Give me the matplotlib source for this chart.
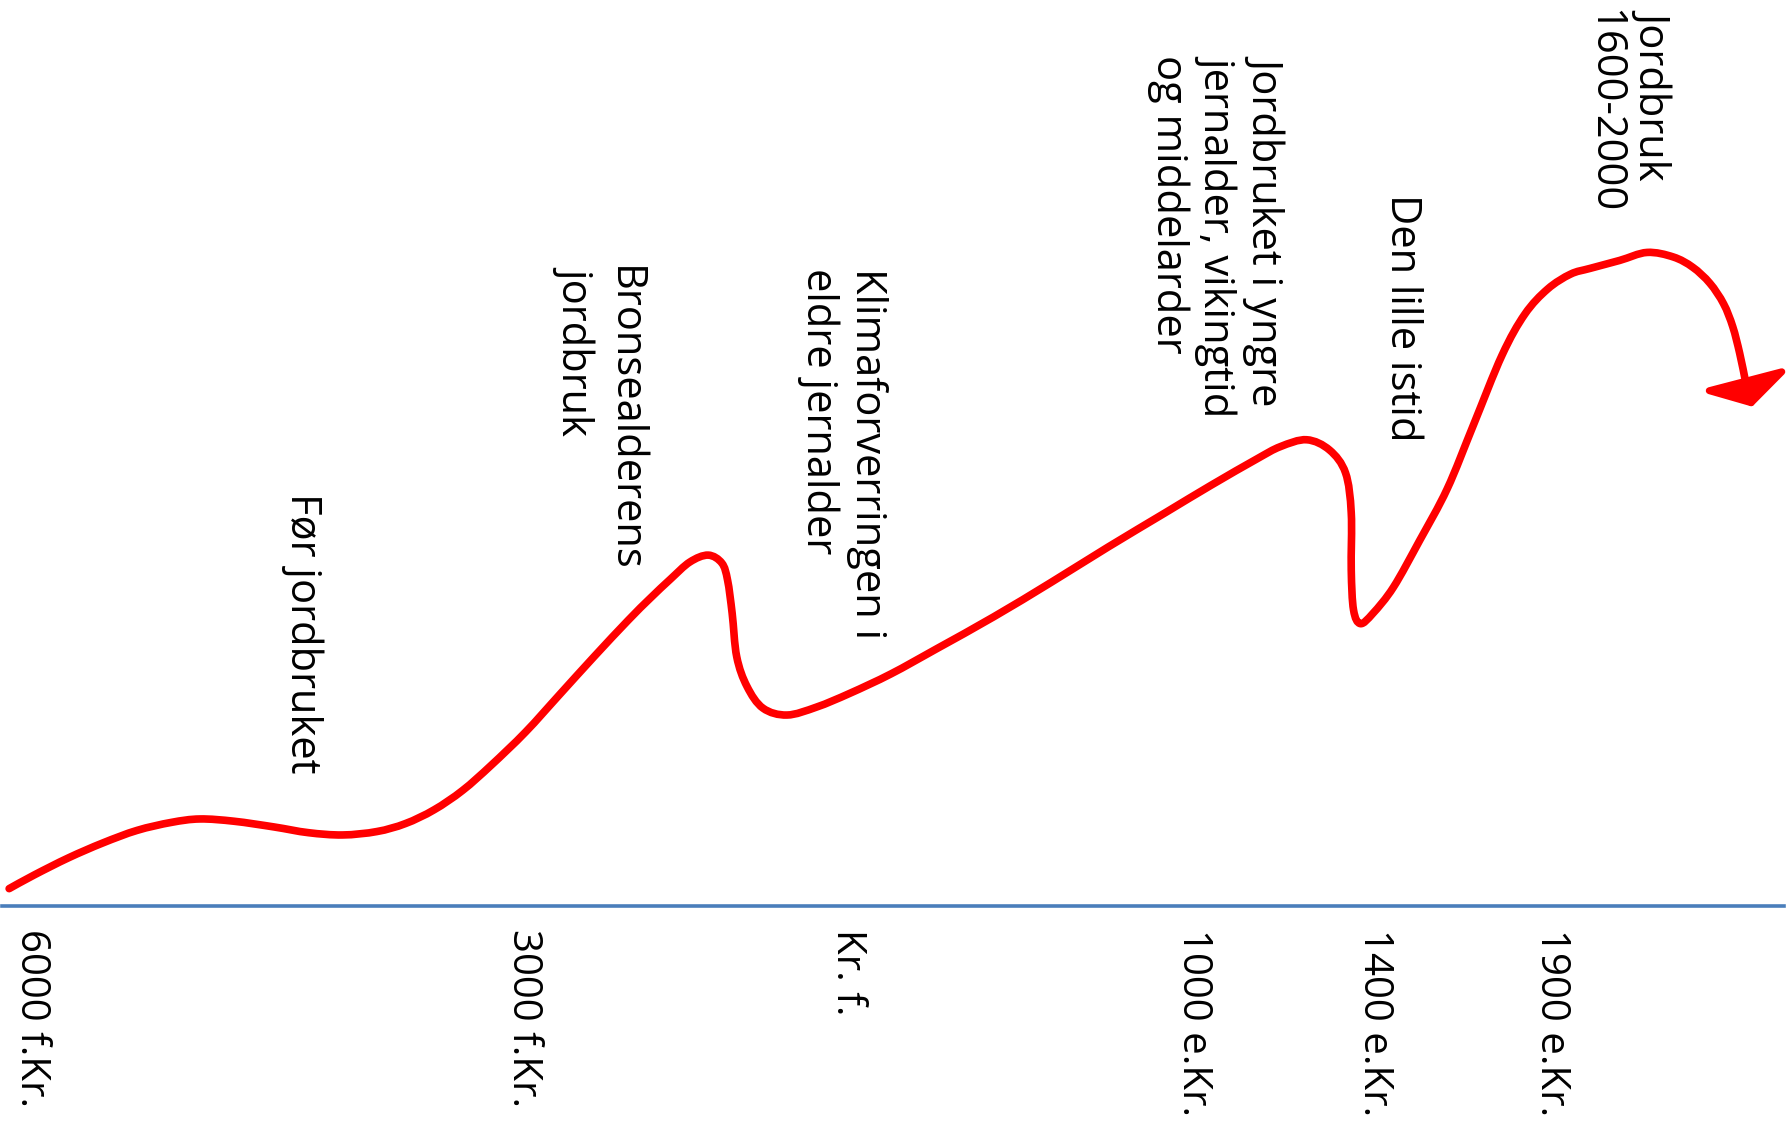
import matplotlib
matplotlib.use("Agg")
import matplotlib.pyplot as plt
from matplotlib.patches import FancyArrowPatch, PathPatch
from matplotlib.path import Path

# ---------------- data ----------------
tick_pos = [27, 458, 742, 1045, 1203, 1358]
tick_labels = ["6000 f.Kr.", "3000 f.Kr.", "Kr. f.", "1000 e.Kr.", "1400 e.Kr.", "1900 e.Kr."]

curve_x = [8, 30, 60, 90, 120, 150, 175, 205, 240, 270, 300, 330, 355, 380, 405, 430,
           460, 490, 520, 550, 569, 587, 604, 620, 632, 637, 641, 645, 654, 668, 689,
           715, 744, 780, 820, 870, 920, 970, 1020, 1060, 1100, 1121, 1144, 1164, 1178,
           1183, 1183, 1185, 1191, 1202, 1220, 1243, 1267, 1290, 1315, 1335, 1355, 1375,
           1392, 1418, 1442, 1465, 1482, 1497, 1509, 1517, 1523, 1528, 1534]
curve_y = [15, 27, 42, 55, 66, 73, 76, 74, 69, 64, 62, 65, 72, 84, 101, 123,
           152, 185, 218, 250, 269, 286, 301, 307, 300, 285, 256, 218, 192, 173, 167,
           174, 186, 203, 225, 253, 283, 314, 344, 368, 391, 402, 408, 399, 379,
           344, 294, 259, 247, 256, 279, 320, 365, 421, 482, 518, 540, 553,
           558, 565, 572, 568, 559, 545, 527, 507, 484, 460, 437]

period_labels = ["Før jordbruket",
                 "Bronsealderens\njordbruk",
                 "Klimaforverringen i\neldre jernalder",
                 "Jordbruket i yngre\njernalder, vikingtid\nog middelarder",
                 "Den lille istid",
                 "Jordbruk\n1600-2000"]

# ---------------- layout ----------------
label_anchor = [(265, 361), (525, 560), (738, 558), (1066, 745), (1227, 623), (1426, 785)]

W_PX, H_PX = 1791, 1124
S = W_PX / 1568.0
base_px = 793 * S            # baseline from top, in pixels
left_px, right_px = 2, 1784

plt.rcParams["font.family"] = ["Open Sans", "DejaVu Sans"]
FS = 30
TICK_FS = 29

fig = plt.figure(figsize=(W_PX / 100, H_PX / 100), dpi=100)
ax = fig.add_axes([left_px / W_PX, (H_PX - base_px) / H_PX,
                   (right_px - left_px) / W_PX, base_px / H_PX])
ax.set_xlim(left_px / S, right_px / S)
ax.set_ylim(0, 793)

for s in ("left", "top", "right"):
    ax.spines[s].set_visible(False)
ax.spines["bottom"].set_color("#4a7ebb")
ax.spines["bottom"].set_linewidth(2.6)
ax.set_yticks([])
ax.set_xticks(tick_pos, tick_labels, rotation=-90, fontsize=TICK_FS)
ax.tick_params(axis="x", length=0, pad=17)

# smooth curve through the read points (Catmull-Rom rendered as cubic Bezier path)
pts = list(zip(curve_x[:-1], curve_y[:-1]))
n = len(pts)
verts = [pts[0]]
codes = [Path.MOVETO]
for i in range(n - 1):
    p0 = pts[i - 1] if i > 0 else pts[i]
    p1 = pts[i]
    p2 = pts[i + 1]
    p3 = pts[i + 2] if i + 2 < n else pts[i + 1]
    c1 = (p1[0] + (p2[0] - p0[0]) / 6.0, p1[1] + (p2[1] - p0[1]) / 6.0)
    c2 = (p2[0] - (p3[0] - p1[0]) / 6.0, p2[1] - (p3[1] - p1[1]) / 6.0)
    verts += [c1, c2, p2]
    codes += [Path.CURVE4] * 3
curve = PathPatch(Path(verts, codes), facecolor="none", edgecolor="red", lw=5.5,
                  capstyle="round", joinstyle="round", clip_on=False)
ax.add_patch(curve)

arrow = FancyArrowPatch(posA=(curve_x[-2], curve_y[-2]), posB=(curve_x[-1], curve_y[-1]),
                        arrowstyle="-|>,head_length=1.6,head_width=2.7", mutation_scale=10,
                        color="red", lw=5, shrinkA=0, shrinkB=0, clip_on=False,
                        joinstyle="round", capstyle="round")
ax.add_patch(arrow)

for txt, (x, y) in zip(period_labels, label_anchor):
    ax.text(x, y, txt, rotation=-90, ha="center", va="top", multialignment="left",
            fontsize=FS, linespacing=1.2, clip_on=False)

fig.savefig("out.png", dpi=100)
